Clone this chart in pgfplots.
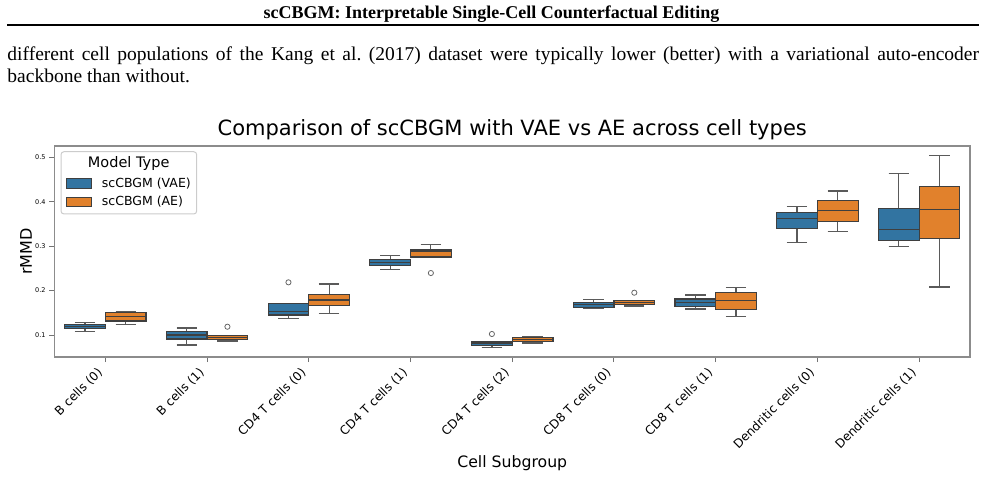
\documentclass[border=0pt]{standalone}
\usepackage{fontspec}
\setmainfont{Liberation Serif}
\newfontfamily\dv{DejaVu Sans}
\usepackage{pgfplots}
\pgfplotsset{compat=1.18}
\usepgfplotslibrary{statistics}

\definecolor{vae}{HTML}{3274A1}
\definecolor{ae}{HTML}{E1812C}
\definecolor{edge}{HTML}{3F3F3F}
\definecolor{whisk}{HTML}{5A5A5A}

\pgfplotsset{
  box common/.style={draw=edge, line width=1.2pt,
    boxplot/every whisker/.style={draw=whisk},
    mark=o, mark size=2.6pt,
    mark options={draw=black!60, fill=none, line width=0.8pt, solid}},
  vaebox/.style={box common, fill=vae},
  aebox/.style={box common, fill=ae},
}

\begin{document}
\frenchspacing
\begin{tikzpicture}
% running head and body text
\node[anchor=base, inner sep=0pt, font=\fontsize{18}{18}\selectfont\bfseries]
  at (491.5pt,458pt) {scCBGM: Interpretable Single-Cell Counterfactual Editing};
\draw[line width=2pt] (7pt,452pt) -- (979pt,452pt);
\node[anchor=base west, inner sep=0pt, font=\fontsize{19.5}{21}\selectfont]
  at (7.3pt,416pt) {\makebox[971.5pt][s]{different cell populations of the Kang et al. (2017) dataset were typically lower (better) with a variational auto-encoder}};
\node[anchor=base west, inner sep=0pt, font=\fontsize{19.5}{21}\selectfont]
  at (7.3pt,394.5pt) {backbone than without.};

\begin{axis}[
  at={(54.5pt,120pt)}, anchor=south west,
  scale only axis, width=915.5pt, height=211pt,
  xmin=-0.5, xmax=8.5, ymin=0.0505, ymax=0.5257,
  boxplot/draw direction=y,
  axis line style={black!45, line width=1.1pt},
  tick align=outside, major tick length=5pt,
  tick style={black!55, line width=1pt},
  xtick={0,1,2,3,4,5,6,7,8},
  xticklabels={B cells (0), B cells (1), CD4 T cells (0), CD4 T cells (1), CD4 T cells (2), CD8 T cells (0), CD8 T cells (1), Dendritic cells (0), Dendritic cells (1)},
  xtick pos=bottom, ytick pos=left,
  xticklabel style={font={\fontsize{12.2}{12}\selectfont\dv}, anchor=south east,
    inner sep=0pt, yshift=-12.3pt, xshift=-1pt, rotate=45},
  ytick={0.1,0.2,0.3,0.4,0.5},
  yticklabel style={font={\fontsize{6.5}{7}\selectfont\dv}, anchor=east,
    inner sep=0pt, xshift=-3.8pt,
    /pgf/number format/.cd, fixed, fixed zerofill, precision=1,
    assume math mode=true},
  title={Comparison of scCBGM with VAE vs AE across cell types},
  title style={font={\fontsize{21}{22}\selectfont\dv}, at={(rel axis cs:0.5,1)},
    anchor=base, yshift=4.5pt, inner sep=0pt},
  xlabel={Cell Subgroup},
  xlabel style={font={\fontsize{15.7}{17}\selectfont\dv}, at={(rel axis cs:0.5,0)},
    anchor=base, yshift=-110pt, inner sep=0pt},
  ylabel={rMMD},
  ylabel style={font={\fontsize{16}{17}\selectfont\dv},
    at={(axis description cs:-0.0311,0.5)}, anchor=center, inner sep=0pt},
]
% B cells (0)
\addplot[vaebox, boxplot prepared={draw position=-0.2, lower whisker=0.1075, lower quartile=0.115, median=0.1196, upper quartile=0.124, upper whisker=0.1277, box extend=0.4, whisker extend=0.2}] coordinates {};
\addplot[aebox, boxplot prepared={draw position=0.2, lower whisker=0.124, lower quartile=0.1315, median=0.141, upper quartile=0.151, upper whisker=0.153, box extend=0.4, whisker extend=0.2}] coordinates {};
% B cells (1)
\addplot[vaebox, boxplot prepared={draw position=0.8, lower whisker=0.0775, lower quartile=0.091, median=0.100, upper quartile=0.1075, upper whisker=0.1158, box extend=0.4, whisker extend=0.2}] coordinates {};
\addplot[aebox, boxplot prepared={draw position=1.2, lower whisker=0.0865, lower quartile=0.0903, median=0.0948, upper quartile=0.0985, upper whisker=0.0985, box extend=0.4, whisker extend=0.2}] table[row sep=\\, y index=0] {y\\ 0.1187\\};
% CD4 T cells (0)
\addplot[vaebox, boxplot prepared={draw position=1.8, lower whisker=0.1376, lower quartile=0.145, median=0.1525, upper quartile=0.1714, upper whisker=0.1714, box extend=0.4, whisker extend=0.2}] table[row sep=\\, y index=0] {y\\ 0.2187\\};
\addplot[aebox, boxplot prepared={draw position=2.2, lower whisker=0.148, lower quartile=0.167, median=0.1788, upper quartile=0.1917, upper whisker=0.215, box extend=0.4, whisker extend=0.2}] coordinates {};
% CD4 T cells (1)
\addplot[vaebox, boxplot prepared={draw position=2.8, lower whisker=0.248, lower quartile=0.256, median=0.2637, upper quartile=0.2705, upper whisker=0.2786, box extend=0.4, whisker extend=0.2}] coordinates {};
\addplot[aebox, boxplot prepared={draw position=3.2, lower whisker=0.2757, lower quartile=0.2757, median=0.2885, upper quartile=0.2914, upper whisker=0.3034, box extend=0.4, whisker extend=0.2}] table[row sep=\\, y index=0] {y\\ 0.2396\\};
% CD4 T cells (2)
\addplot[vaebox, boxplot prepared={draw position=3.8, lower whisker=0.0723, lower quartile=0.0768, median=0.082, upper quartile=0.0858, upper whisker=0.0858, box extend=0.4, whisker extend=0.2}] table[row sep=\\, y index=0] {y\\ 0.1023\\};
\addplot[aebox, boxplot prepared={draw position=4.2, lower whisker=0.082, lower quartile=0.0858, median=0.0903, upper quartile=0.094, upper whisker=0.0955, box extend=0.4, whisker extend=0.2}] coordinates {};
% CD8 T cells (0)
\addplot[vaebox, boxplot prepared={draw position=4.8, lower whisker=0.1592, lower quartile=0.1624, median=0.1683, upper quartile=0.1736, upper whisker=0.1804, box extend=0.4, whisker extend=0.2}] coordinates {};
\addplot[aebox, boxplot prepared={draw position=5.2, lower whisker=0.1653, lower quartile=0.169, median=0.1727, upper quartile=0.1773, upper whisker=0.1773, box extend=0.4, whisker extend=0.2}] table[row sep=\\, y index=0] {y\\ 0.1953\\};
% CD8 T cells (1)
\addplot[vaebox, boxplot prepared={draw position=5.8, lower whisker=0.1586, lower quartile=0.1638, median=0.1727, upper quartile=0.181, upper whisker=0.190, box extend=0.4, whisker extend=0.2}] coordinates {};
\addplot[aebox, boxplot prepared={draw position=6.2, lower whisker=0.1412, lower quartile=0.157, median=0.1773, upper quartile=0.1953, upper whisker=0.2066, box extend=0.4, whisker extend=0.2}] coordinates {};
% Dendritic cells (0)
\addplot[vaebox, boxplot prepared={draw position=6.8, lower whisker=0.3088, lower quartile=0.3403, median=0.3628, upper quartile=0.3764, upper whisker=0.389, box extend=0.4, whisker extend=0.2}] coordinates {};
\addplot[aebox, boxplot prepared={draw position=7.2, lower whisker=0.3327, lower quartile=0.3552, median=0.380, upper quartile=0.4034, upper whisker=0.4243, box extend=0.4, whisker extend=0.2}] coordinates {};
% Dendritic cells (1)
\addplot[vaebox, boxplot prepared={draw position=7.8, lower whisker=0.2989, lower quartile=0.3133, median=0.338, upper quartile=0.3853, upper whisker=0.4642, box extend=0.4, whisker extend=0.2}] coordinates {};
\addplot[aebox, boxplot prepared={draw position=8.2, lower whisker=0.208, lower quartile=0.3169, median=0.383, upper quartile=0.434, upper whisker=0.505, box extend=0.4, whisker extend=0.2}] coordinates {};
\end{axis}

% legend
\draw[black!20, fill=white, line width=1pt, rounded corners=3pt]
  (61pt,263pt) rectangle (196.7pt,325.3pt);
\node[anchor=center, inner sep=0pt, font={\fontsize{14.5}{15}\selectfont\dv}]
  at (128.7pt,313.7pt) {Model Type};
\draw[edge, fill=vae, line width=1pt] (66pt,288.7pt) rectangle (91.7pt,298pt);
\draw[edge, fill=ae, line width=1pt] (66pt,270.3pt) rectangle (91.7pt,279.7pt);
\node[anchor=west, inner sep=0pt, font={\fontsize{12.5}{13}\selectfont\dv}]
  at (101.7pt,293.3pt) {scCBGM (VAE)};
\node[anchor=west, inner sep=0pt, font={\fontsize{12.5}{13}\selectfont\dv}]
  at (101.7pt,275pt) {scCBGM (AE)};

\pgfresetboundingbox
\path[use as bounding box] (0,0) rectangle (986pt,477pt);
\end{tikzpicture}
\end{document}
